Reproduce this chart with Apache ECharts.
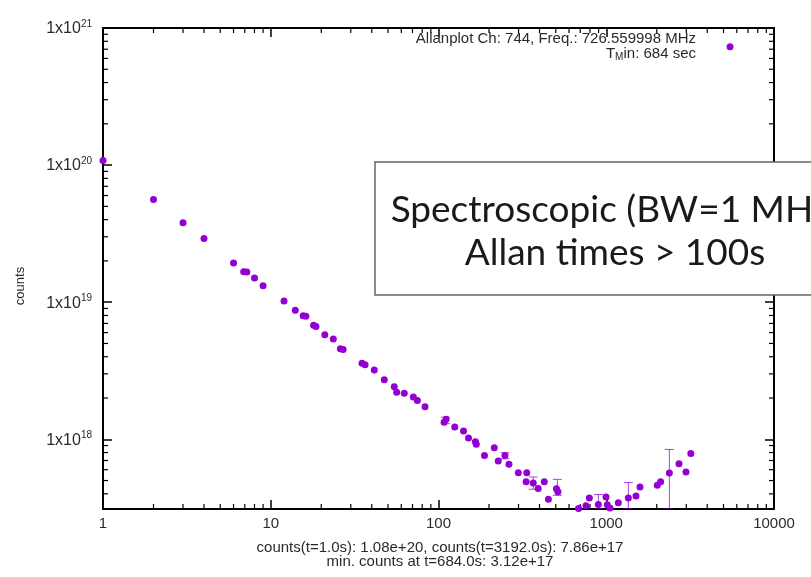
<!DOCTYPE html>
<html>
<head>
<meta charset="utf-8">
<script src="https://cdn.jsdelivr.net/npm/echarts@6/dist/echarts.min.js"></script>
<style>html,body{margin:0;padding:0;background:#fff;}#c{width:811px;height:577px;}</style>
</head>
<body>
<div id="c"></div>
<script>
// ---- data ----
const tau = [1,2,3,4,6,6.9,7.2,8,9,12,14,15.6,16.2,18,18.6,21,23.6,26,27,35,36.5,41.4,47.5,54.5,56.3,62.5,70.8,74.8,83.1,108,111,125,141,151,166,168,188,215,227,249,263,299,336,333,367,393,427,452,505,515,684,757,793,897,997,1015,1052,1180,1354,1504,1589,2016,2110,2378,2714,2987,3192,5470];
const counts = [1.08e20,5.6e19,3.8e19,2.92e19,1.93e19,1.67e19,1.66e19,1.50e19,1.32e19,1.02e19,8.75e18,7.95e18,7.9e18,6.8e18,6.65e18,5.78e18,5.38e18,4.58e18,4.52e18,3.58e18,3.5e18,3.2e18,2.72e18,2.42e18,2.2e18,2.17e18,2.03e18,1.92e18,1.73e18,1.33e18,1.40e18,1.23e18,1.15e18,1.02e18,9.6e17,9.2e17,7.63e17,8.67e17,6.94e17,7.63e17,6.56e17,5.71e17,5.71e17,4.89e17,4.8e17,4.37e17,4.9e17,3.65e17,4.35e17,4.15e17,3.12e17,3.27e17,3.73e17,3.34e17,3.8e17,3.33e17,3.15e17,3.45e17,3.73e17,3.86e17,4.49e17,4.61e17,4.9e17,5.68e17,6.64e17,5.77e17,7.86e17,7.3e20];
const errTau  = [110, 249, 367, 511, 897, 1354, 2378];
const errLow  = [1.30e18, 7.2e17, 4.32e17, 3.9e17, 3.1e17, 3.1e17, 3.1e17];
const errHigh = [1.45e18, 7.98e17, 5.31e17, 5.1e17, 3.95e17, 4.83e17, 8.43e17];
const xMin = 1, xMax = 10000;
const yMin = 3.1e17, yMax = 1e21;
const xMinorTicks = [2,3,4,5,6,7,8,9,20,30,40,50,60,70,80,90,200,300,400,500,600,700,800,900,2000,3000,4000,5000,6000,7000,8000,9000];
const yMinorTicks = [4e17,5e17,6e17,7e17,8e17,9e17,2e18,3e18,4e18,5e18,6e18,7e18,8e18,9e18,2e19,3e19,4e19,5e19,6e19,7e19,8e19,9e19,2e20,3e20,4e20,5e20,6e20,7e20,8e20,9e20];
const yName = 'counts';
const titleLine1 = 'Allanplot Ch: 744, Freq.: 726.559998 MHz';
const xLabelLine1 = 'counts(t=1.0s): 1.08e+20, counts(t=3192.0s): 7.86e+17';
const xLabelLine2 = 'min. counts at t=684.0s: 3.12e+17';
const boxLine1 = 'Spectroscopic (BW=1 MHz)';
const boxLine2 = 'Allan times > 100s';

const purple = '#9400d3';
const txt = '#2a2a2a';
const FONT = '"Liberation Sans", Arial, sans-serif';
const F15 = '15px "Liberation Sans", Arial, sans-serif';

function isPow10(v){ const l = Math.log10(v); return Math.abs(l - Math.round(l)) < 1e-6; }

const chart = echarts.init(document.getElementById('c'), null, {renderer:'canvas'});
const axisLineStyle = {show:true, lineStyle:{color:'#000', width:2}};
const tickStyle = {show:true, inside:true, length:9, lineStyle:{color:'#000', width:1.5}};

const option = {
  backgroundColor:'#fff',
  animation:false,
  grid:{left:103, right:37, top:28, bottom:68},
  xAxis:[
    {type:'log', logBase:10, min:xMin, max:xMax, position:'bottom',
     axisLine:axisLineStyle, axisTick:tickStyle, splitLine:{show:false},
     axisLabel:{margin:7, color:txt, fontFamily:FONT, fontSize:15,
       formatter:(v)=> isPow10(v) ? String(Math.round(v)) : ''}},
    {type:'log', logBase:10, min:xMin, max:xMax, position:'top',
     axisLine:axisLineStyle, axisTick:tickStyle, splitLine:{show:false}, axisLabel:{show:false}}
  ],
  yAxis:[
    {type:'log', logBase:10, min:yMin, max:yMax, position:'left',
     axisLine:axisLineStyle, axisTick:tickStyle, splitLine:{show:false},
     axisLabel:{margin:11, color:txt, fontFamily:FONT, fontSize:16,
       formatter:(v)=> isPow10(v) ? '{n|1x10}{s|' + Math.round(Math.log10(v)) + '}' : '',
       rich:{n:{fontFamily:FONT, fontSize:16, color:txt, lineHeight:18, verticalAlign:'bottom'},
             s:{fontFamily:FONT, fontSize:10, color:txt, lineHeight:12, verticalAlign:'top'}}}},
    {type:'log', logBase:10, min:yMin, max:yMax, position:'right',
     axisLine:axisLineStyle, axisTick:tickStyle, splitLine:{show:false}, axisLabel:{show:false}}
  ],
  series:[
    {type:'custom', name:'xminor', xAxisIndex:0, yAxisIndex:0, silent:true, clip:false, z:3,
     data: xMinorTicks.map(v=>[v, yMin]),
     renderItem:(params, api)=>{
       const b = api.coord([api.value(0), yMin]);
       const t = api.coord([api.value(0), yMax]);
       const st = {stroke:'#000', lineWidth:1.2};
       return {type:'group', children:[
         {type:'line', shape:{x1:b[0], y1:b[1], x2:b[0], y2:b[1]-5}, style:st},
         {type:'line', shape:{x1:t[0], y1:t[1], x2:t[0], y2:t[1]+5}, style:st}
       ]};
     }},
    {type:'custom', name:'yminor', xAxisIndex:0, yAxisIndex:0, silent:true, clip:false, z:3,
     data: yMinorTicks.filter(v=>v>=yMin).map(v=>[xMin, v]),
     renderItem:(params, api)=>{
       const l = api.coord([xMin, api.value(1)]);
       const r = api.coord([xMax, api.value(1)]);
       const st = {stroke:'#000', lineWidth:1.2};
       return {type:'group', children:[
         {type:'line', shape:{x1:l[0], y1:l[1], x2:l[0]+5, y2:l[1]}, style:st},
         {type:'line', shape:{x1:r[0], y1:r[1], x2:r[0]-5, y2:r[1]}, style:st}
       ]};
     }},
    {type:'custom', name:'errors', xAxisIndex:0, yAxisIndex:0, silent:true, clip:true, z:4,
     data: errTau.map((t,i)=>[t, errLow[i], errHigh[i]]),
     renderItem:(params, api)=>{
       const lo = api.coord([api.value(0), api.value(1)]);
       const hi = api.coord([api.value(0), api.value(2)]);
       const st = {stroke:purple, lineWidth:1, opacity:0.75};
       const w = 4.5;
       return {type:'group', children:[
         {type:'line', shape:{x1:lo[0], y1:lo[1], x2:hi[0], y2:hi[1]}, style:st},
         {type:'line', shape:{x1:hi[0]-w, y1:hi[1], x2:hi[0]+w, y2:hi[1]}, style:st},
         {type:'line', shape:{x1:lo[0]-w, y1:lo[1], x2:lo[0]+w, y2:lo[1]}, style:st}
       ]};
     }},
    {type:'scatter', name:'counts', xAxisIndex:0, yAxisIndex:0, z:5,
     symbol:'circle', symbolSize:7, itemStyle:{color:purple, opacity:1},
     data: tau.map((t,i)=>[t, counts[i]])}
  ],
  graphic:[
    {type:'text', z:10, rotation:Math.PI/2, x:20, y:286,
      style:{text:yName, x:0, y:0, align:'center', verticalAlign:'middle',
      font:'13px "Liberation Sans", Arial, sans-serif', fill:txt}},
    {type:'text', z:10, style:{text:titleLine1, x:696, y:39, align:'right', verticalAlign:'middle',
      font:F15, fill:txt}},
    {type:'text', z:10, style:{text:'{n|T}{s|M}{n|in: 684 sec}', x:696, y:54, align:'right', verticalAlign:'middle',
      rich:{n:{fontFamily:FONT, fontSize:15, fill:txt, color:txt, lineHeight:16, verticalAlign:'top'},
            s:{fontFamily:FONT, fontSize:10, fill:txt, color:txt, lineHeight:9, verticalAlign:'bottom'}}}},
    {type:'text', z:10, style:{text:xLabelLine1, x:440, y:548, align:'center', verticalAlign:'middle',
      font:F15, fill:txt}},
    {type:'text', z:10, style:{text:xLabelLine2, x:440, y:562, align:'center', verticalAlign:'middle',
      font:F15, fill:txt}},
    {type:'rect', z:20, shape:{x:375, y:162, width:460, height:133},
      style:{fill:'#fff', stroke:'#666', lineWidth:1.5}},
    {type:'text', z:21, style:{text:boxLine1, x:615, y:210, align:'center', verticalAlign:'middle',
      font:'37px Lato, "Open Sans", sans-serif', fill:'#1a1a1a'}},
    {type:'text', z:21, style:{text:boxLine2, x:615, y:253, align:'center', verticalAlign:'middle',
      font:'37px Lato, "Open Sans", sans-serif', fill:'#1a1a1a'}}
  ]
};
chart.setOption(option);
</script>
</body>
</html>
